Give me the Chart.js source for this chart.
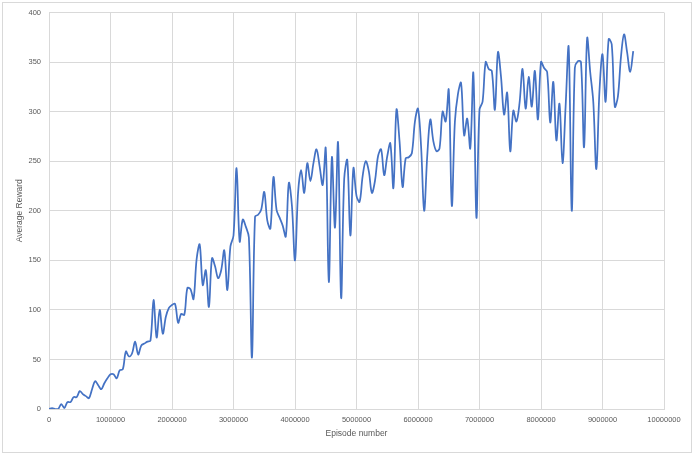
<!DOCTYPE html>
<html>
<head>
<meta charset="utf-8">
<script src="https://cdn.jsdelivr.net/npm/chart.js@4.4.1/dist/chart.umd.min.js"></script>
<style>
  html, body { margin: 0; padding: 0; background: #fff; overflow: hidden; }
  #wrap { position: relative; width: 696px; height: 455px; }
</style>
</head>
<body>
<div id="wrap"><canvas id="rewardChart"></canvas></div>
<script>
// average reward, one value every 50000 episodes (0 .. 9500000)
const reward = [
    0, 1, 0, 0, 5, 1, 7, 7, 12, 12,
    18, 15, 13, 11, 20, 28, 24, 20, 26, 31,
    35, 35, 31, 39, 40, 58, 53, 56, 68, 55,
    64, 66, 68, 69, 110, 72, 100, 76, 93, 102,
    105, 106, 87, 96, 95, 122, 121, 111, 151, 166,
    125, 140, 103, 152, 144, 132, 140, 160, 120, 164,
    175, 243, 169, 191, 184, 173, 52, 194, 196, 201,
    219, 190, 182, 234, 201, 193, 185, 174, 228, 205,
    150, 218, 241, 218, 248, 230, 248, 262, 245, 226,
    263, 128, 254, 183, 269, 112, 232, 251, 175, 243,
    215, 209, 235, 250, 240, 218, 230, 255, 262, 236,
    255, 268, 223, 302, 270, 224, 253, 254, 258, 290,
    303, 265, 200, 255, 292, 270, 260, 263, 300, 290,
    322, 205, 290, 318, 329, 276, 293, 263, 339, 193,
    302, 310, 350, 343, 341, 302, 360, 335, 297, 319,
    260, 301, 290, 308, 343, 303, 335, 305, 341, 292,
    350, 344, 340, 289, 330, 271, 308, 248, 305, 365,
    200, 344, 351, 350, 264, 374, 340, 310, 242, 320,
    358, 310, 373, 368, 305, 315, 355, 378, 360, 340,
    361
];
const episodeStep = 50000;
const episodes = reward.map((v, i) => i * episodeStep);

const xTicks = [0, 1000000, 2000000, 3000000, 4000000, 5000000, 6000000, 7000000, 8000000, 9000000, 10000000];
const yTicks = [0, 50, 100, 150, 200, 250, 300, 350, 400];

const points = episodes.map((e, i) => ({ x: e, y: reward[i] }));

const frame = {
    id: 'frame',
    beforeDraw(chart) {
        const c = chart.ctx;
        c.save();
        c.strokeStyle = '#d9d9d9';
        c.lineWidth = 1;
        c.strokeRect(2.5, 2.5, 689, 450);
        c.restore();
    }
};

const textColor = '#595959';
const gridColor = '#d9d9d9';

new Chart(document.getElementById('rewardChart'), {
    type: 'line',
    data: {
        datasets: [{
            data: points,
            borderColor: '#4472c4',
            borderWidth: 1.75,
            pointRadius: 0,
            tension: 0.35,
            fill: false
        }]
    },
    options: {
        responsive: true,
        maintainAspectRatio: false,
        animation: false,
        layout: {
            padding: { left: 0, top: 12, right: 32, bottom: 0 }
        },
        plugins: {
            legend: { display: false },
            tooltip: { enabled: false }
        },
        scales: {
            x: {
                type: 'linear',
                min: xTicks[0],
                max: xTicks[xTicks.length - 1],
                afterBuildTicks: (s) => { s.ticks = xTicks.map(v => ({ value: v })); },
                afterFit: (s) => { s.height = 46; },
                grid: { color: gridColor, drawTicks: false },
                border: { color: gridColor },
                ticks: {
                    padding: 6,
                    maxRotation: 0,
                    autoSkip: false,
                    color: textColor,
                    font: { family: 'Liberation Sans', size: 7.5 },
                    callback: (v) => String(v)
                },
                title: {
                    display: true,
                    text: 'Episode number',
                    color: textColor,
                    font: { family: 'Liberation Sans', size: 8.5 },
                    padding: { top: 0, bottom: 16 }
                }
            },
            y: {
                min: yTicks[0],
                max: yTicks[yTicks.length - 1],
                afterBuildTicks: (s) => { s.ticks = yTicks.map(v => ({ value: v })); },
                afterFit: (s) => { s.width = 49; },
                grid: { color: gridColor, drawTicks: false },
                border: { color: gridColor },
                ticks: {
                    padding: 8,
                    color: textColor,
                    font: { family: 'Liberation Sans', size: 7.5 },
                    callback: (v) => String(v)
                },
                title: {
                    display: true,
                    text: 'Average Reward',
                    color: textColor,
                    font: { family: 'Liberation Sans', size: 8.5 },
                    padding: { top: 15, bottom: 0 }
                }
            }
        }
    },
    plugins: [frame]
});
</script>
</body>
</html>
